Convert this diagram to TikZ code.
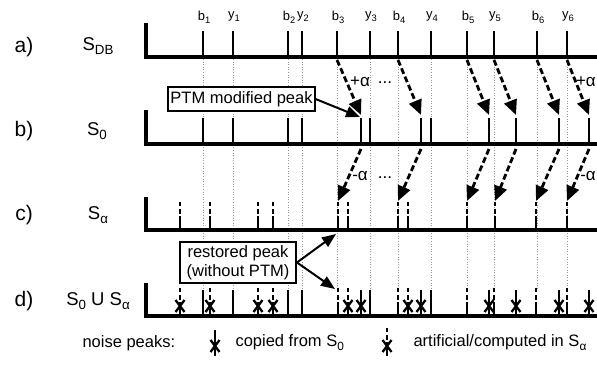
\documentclass[tikz,border=0pt]{standalone}
\usepackage{fontspec}
\setmainfont{Liberation Sans}
\usepackage{graphicx}
\usetikzlibrary{arrows.meta}
\newcommand\lsub[1]{\raisebox{-0.45ex}{\scalebox{0.72}{#1}}}
\newcommand\fsz[1]{\fontsize{#1}{#1}\selectfont}
\begin{document}
\begin{tikzpicture}[x=1pt,y=-1pt,
  axisline/.style={line width=3.8pt},
  pk/.style={line width=2.7pt},
  gridline/.style={gray!80, dotted, line width=0.6pt},
  xm/.style={line width=2.3pt},
  dasharrow/.style={line width=2.8pt, dash pattern=on 6pt off 3pt, -{Triangle[length=15pt,width=13pt]}},
  solarrow/.style={line width=2pt, -{Triangle[length=14pt,width=11pt]}},
  box/.style={draw, line width=1.9pt, fill=white, inner sep=2pt, font=\fontsize{16.5}{19}\selectfont},
  rowlab/.style={font=\fsz{21}},
  slab/.style={font=\fsz{18.5}},
  pklab/.style={font=\fsz{13}},
  alab/.style={font=\fsz{17}},
  leg/.style={font=\fsz{16.5}, anchor=west},
  speak/.pic={\draw[pk] (0,0) -- (0,-26);},
  ddpeak/.pic={\draw[pk] (0,0) -- (0,-14) (0,-16.5) -- (0,-21.5) (0,-24) -- (0,-28);},
  xmark/.pic={\draw[xm] (-4.5,-4) -- (4.5,-16) (-4.5,-16) -- (4.5,-4);},
]
\useasboundingbox (0,0) rectangle (597,369);
% grid
\foreach \x in {203,233,288,302,337,370,398,431,467,494,537,567}
  \draw[gridline] (\x,59) -- (\x,290);
% axes
\foreach \yb/\yt in {57/23,144/110,230/197,316/283}
  \draw[axisline] (146,\yt) -- (146,\yb) -- (602,\yb);
% row a
\foreach \x in {203,233,288,302,337,370,398,431,467,494,537,567}
  \pic at (\x,57) {speak};
\foreach \x/\t [count=\i] in {203/b\lsub{1},233/y\lsub{1},288/b\lsub{2},302/y\lsub{2},337/b\lsub{3},370/y\lsub{3},398/b\lsub{4},431/y\lsub{4},467/b\lsub{5},494/y\lsub{5},537/b\lsub{6},567/y\lsub{6}}
  \node[pklab] (lab\i) at (\x+1,17) {\t};
% row b
\foreach \x in {203,233,288,302,361,370,421,431,489,516,559,589}
  \pic at (\x,144) {speak};
% row c
\foreach \x in {180,210,258,273,338,348,398,408,467,495,536,567}
  \pic at (\x,230) {ddpeak};
% row d
\foreach \x in {203,233,288,302,370,431}
  \pic at (\x,316) {speak};
\foreach \x in {338,398,467,494,536,567}
  \pic at (\x,316) {ddpeak};
\foreach \x in {180,210,258,273,348,408}
  {\pic at (\x,316) {ddpeak}; \pic at (\x,316) {xmark};}
\foreach \x in {361,421,489,516,559,589}
  {\pic at (\x,316) {speak}; \pic at (\x,316) {xmark};}
% shift arrows
\foreach \xa/\xb/\xc [count=\i] in {337/361/338,398/421/398,467/489/467,494/516/495,537/559/536,567/589/567}{
  \coordinate (A\i) at (\xa,60);
  \coordinate (B\i) at (\xb,115);
  \coordinate (Bs\i) at (\xb,149);
  \coordinate (C\i) at (\xc,201);
  \draw[dasharrow] (A\i) -- (B\i);
  \draw[dasharrow] (Bs\i) -- (C\i);
}
\node[alab] (pa1) at (360,82) {+α};
\node[alab] (dots1) at (385,83) {...};
\node[alab, anchor=east, inner sep=1pt] (pa2) at (597,82) {+α};
\node[alab] (ma1) at (360,176) {-α};
\node[alab] (dots2) at (385,178) {...};
\node[alab, anchor=east, inner sep=1pt] (ma2) at (597,176) {-α};
% row labels
\node[rowlab] (la) at (24,47) {a)};
\node[rowlab] (lb) at (24,131) {b)};
\node[rowlab] (lc) at (24,215) {c)};
\node[rowlab] (ld) at (24,301) {d)};
\node[slab] (sa) at (98,46) {S\lsub{DB}};
\node[slab] (sb) at (97,131) {S\lsub{0}};
\node[slab] (sc) at (98,215) {S\lsub{α}};
\node[slab] (sd) at (98,301) {S\lsub{0} U S\lsub{α}};
% boxes
\node[box, minimum width=143pt, minimum height=24pt] (ptm) at (241.5,99) {PTM modified peak};
\coordinate (ptmt) at (360,117);
\draw[solarrow] (ptm.east) -- (ptmt);
\node[box, align=center, minimum width=116pt, minimum height=41pt] (rest) at (238,262.5) {restored peak\\(without PTM)};
\coordinate (rc) at (336,234);
\coordinate (rd) at (335,289);
\draw[solarrow] (rest.east) -- (rc);
\draw[solarrow] (rest.east) -- (rd);
% legend
\node[leg] (np) at (79,343) {noise peaks:};
\pic at (215,356) {speak}; \pic at (215,356) {xmark};
\node[leg] (cp) at (232,343) {copied from S\lsub{0}};
\pic at (387,356) {ddpeak}; \pic at (387,356) {xmark};
\node[leg] (ar) at (410,343) {artificial/computed in S\lsub{α}};
\end{tikzpicture}
\end{document}
